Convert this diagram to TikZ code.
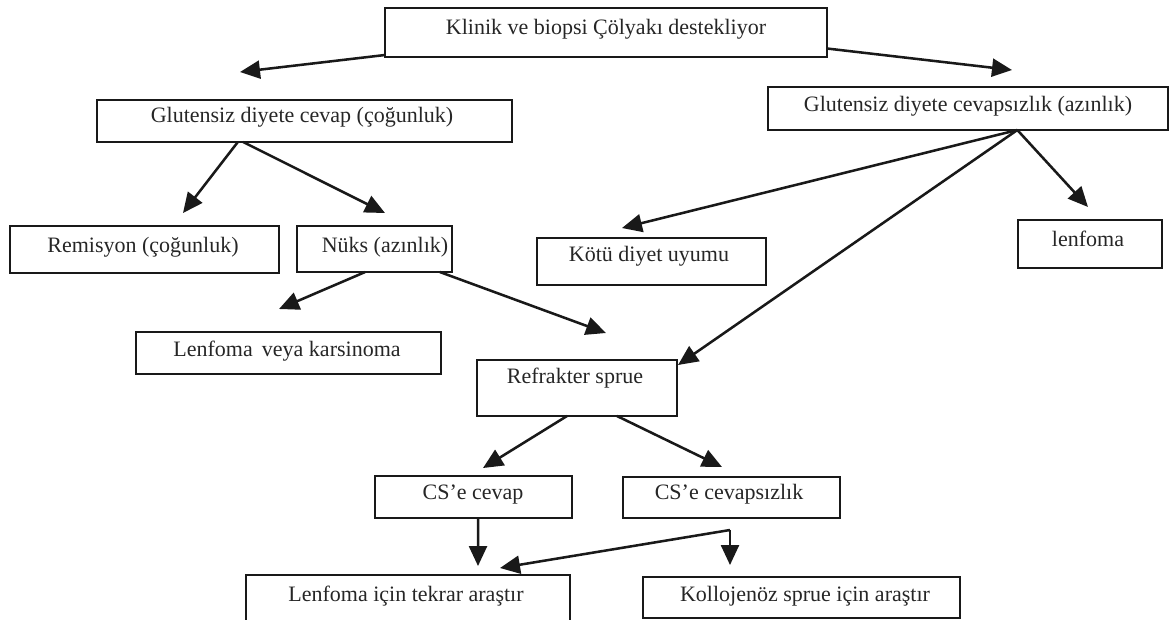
\documentclass[tikz,border=0pt]{standalone}
\usepackage{fontspec}
\setmainfont{Liberation Serif}
\usetikzlibrary{arrows.meta}
\begin{document}
\begin{tikzpicture}[x=0.75pt,y=-0.75pt,
  bx/.style={draw=black!90, line width=1.4pt, rectangle, inner sep=0pt, outer sep=0pt},
  txt/.style={inner sep=0pt, text height=11.5pt, text depth=3.5pt, font=\fontsize{16.5}{18}\selectfont, text=black!85},
  arr/.style={draw=black!90, line width=1.9pt, -{Triangle[length=15pt,width=13.5pt]}},
  ln/.style={draw=black!90, line width=1.9pt}]
\useasboundingbox (0,0) rectangle (1172,619);
% boxes
\node[bx, minimum width=331.5pt, minimum height=36.75pt] (top) at (606,32.5) {};
\node[bx, minimum width=311.25pt, minimum height=31.5pt] (gcev) at (304.5,121) {};
\node[bx, minimum width=300pt, minimum height=32.25pt] (gsiz) at (968,108.5) {};
\node[bx, minimum width=201.75pt, minimum height=35.25pt] (rem) at (144.5,249.5) {};
\node[bx, minimum width=116.25pt, minimum height=34.5pt] (nuks) at (374.5,249) {};
\node[bx, minimum width=171.75pt, minimum height=35.25pt] (kotu) at (651.5,261.5) {};
\node[bx, minimum width=108pt, minimum height=36pt] (lenf) at (1090,244) {};
\node[bx, minimum width=228.75pt, minimum height=31.5pt] (lvk) at (288.5,353) {};
\node[bx, minimum width=150pt, minimum height=42pt] (ref) at (577,388) {};
\node[bx, minimum width=147.75pt, minimum height=31.5pt] (csc) at (473.5,497) {};
\node[bx, minimum width=162.75pt, minimum height=30.75pt] (css) at (731.5,497.5) {};
\node[bx, minimum width=243pt, minimum height=45pt] (lit) at (408,605) {};
\node[bx, minimum width=237.75pt, minimum height=30.75pt] (kol) at (801.5,597.5) {};
% texts
\node[txt] (ttop) at (606,29) {Klinik ve biopsi Çölyakı destekliyor};
\node[txt] (tgcev) at (302,117) {Glutensiz diyete cevap (çoğunluk)};
\node[txt] (tgsiz) at (968,106) {Glutensiz diyete cevapsızlık (azınlık)};
\node[txt] (trem) at (143,247) {Remisyon (çoğunluk)};
\node[txt] (tnuks) at (385,247) {Nüks (azınlık)};
\node[txt] (tkotu) at (649,256) {Kötü diyet uyumu};
\node[txt] (tlenf) at (1088,241) {lenfoma};
\node[txt] (tlvk) at (287,351) {Lenfoma\, veya karsinoma};
\node[txt] (tref) at (575,378) {Refrakter sprue};
\node[txt] (tcsc) at (473,494) {CS’e cevap};
\node[txt] (tcss) at (729,494) {CS’e cevapsızlık};
\node[txt] (tlit) at (406,596) {Lenfoma için tekrar araştır};
\node[txt] (tkol) at (805,596) {Kollojenöz sprue için araştır};
% arrow tips
\coordinate (t1) at (240,72);
\coordinate (t2) at (1012,70);
\coordinate (t3) at (183,213);
\coordinate (t4) at (385,213);
\coordinate (t5) at (622,228);
\coordinate (t6) at (1088,207);
\coordinate (t7) at (678,365);
\coordinate (t8) at (279,309);
\coordinate (t9) at (606,333);
\coordinate (t10) at (483,468);
\coordinate (t11) at (722,467);
\coordinate (t12) at (478,566);
\coordinate (split) at (730,530);
\coordinate (t13) at (500,568);
\coordinate (t14) at (730,565);
% connectors
\draw[arr] ([yshift=1.5pt]top.south west) -- (t1);
\draw[arr] ([yshift=-12pt]top.east) -- (t2);
\draw[arr] ([xshift=-50pt]gcev.south) -- (t3);
\draw[arr] ([xshift=-46pt]gcev.south) -- (t4);
\draw[arr] ([xshift=37pt]gsiz.south) -- (t5);
\draw[arr] ([xshift=37pt]gsiz.south) -- (t6);
\draw[arr] ([xshift=37pt]gsiz.south) -- (t7);
\draw[arr] ([xshift=-7pt]nuks.south) -- (t8);
\draw[arr] ([xshift=49pt]nuks.south) -- (t9);
\draw[arr] ([xshift=-7.5pt]ref.south) -- (t10);
\draw[arr] ([xshift=30pt]ref.south) -- (t11);
\draw[arr] ([xshift=3.4pt]csc.south) -- (t12);
\draw[arr] (split) -- (t13);
\draw[arr] (split) -- (t14);
\end{tikzpicture}
\end{document}
